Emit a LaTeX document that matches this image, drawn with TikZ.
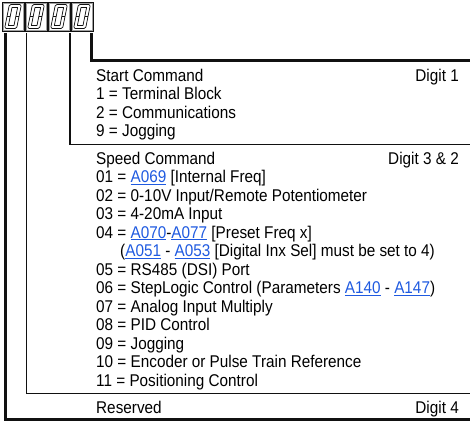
\documentclass[tikz,border=0pt]{standalone}
\usepackage{fontspec}
\setmainfont{Liberation Sans}[FakeStretch=0.9]
\usetikzlibrary{positioning,calc}
\definecolor{dgInk}{HTML}{111111}
\definecolor{dgLink}{HTML}{1F5AE0}
\definecolor{dgFrame}{HTML}{A0A0A0}
\newcommand{\plink}[1]{{\color{dgLink}\underline{#1}}}
\tikzset{
  digitbox/.style={
    draw=dgInk, line width=0.9pt, minimum width=22pt, minimum height=29pt, inner sep=0pt
  },
  segline/.style={line width=0.7pt, dgInk, line join=round},
  thickline/.style={line width=3pt, dgInk},
  thinline/.style={line width=1.1pt, dgInk},
  sectext/.style={anchor=base west, inner sep=0pt, align=left, font=\fontsize{17}{18.5}\selectfont},
  digittag/.style={anchor=base east, inner sep=0pt, font=\fontsize{17}{18.5}\selectfont}
}

\begin{document}
\begin{tikzpicture}[x=1pt, y=-1pt]
  \useasboundingbox (0,0) rectangle (470,421);
  % display digits
  \node[digitbox] (d1) at (13,16.5) {};
  \node[digitbox] (d2) at (36,16.5) {};
  \node[digitbox] (d3) at (59,16.5) {};
  \node[digitbox] (d4) at (82,16.5) {};
  \foreach \dg in {d1,d2,d3,d4}{
    \draw[dgFrame, line width=0.8pt] ([shift={(1.5pt,1.5pt)}]\dg.south west) rectangle ([shift={(-1.5pt,-1.5pt)}]\dg.north east);
    \begin{scope}[shift={(\dg.center)}, xslant=0.2]
      \draw[segline, rounded corners=1.5pt] (-6,-12) rectangle (6,12);
      \draw[segline] (-2.8,-9) rectangle (2.8,9);
      \draw[segline] (-6,0) -- (-2.8,0) (2.8,0) -- (6,0);
    \end{scope}
  }
  % line ends at the right edge
  \coordinate (e1) at (470,419.5);
  \coordinate (e2) at (470,393.5);
  \coordinate (e3) at (470,144.5);
  \coordinate (e4) at (470,60.5);
  \draw[thickline] ([xshift=3.5pt,yshift=-2pt]d1.south west) |- (e1);
  \draw[thinline] ([xshift=1.5pt,yshift=-2pt]d2.south west) |- (e2);
  \draw[thinline] ([xshift=-0.5pt,yshift=-2pt]d3.south east) |- (e3);
  \draw[thickline] ([xshift=-2pt,yshift=-2pt]d4.south east) |- (e4);
  % sections (base = last line)
  \node[sectext] (start) at (96,136.5)
   {Start Command\\
     1 = Terminal Block\\
     2 = Communications\\
     9 = Jogging};
  \node[digittag] (tag1) at (459,81) {Digit 1};
  \node[sectext] (speed) at (96,386)
   {Speed Command\\
     01 = \plink{A069} [Internal Freq]\\
     02 = 0-10V Input/Remote Potentiometer\\
     03 = 4-20mA Input\\
     04 = \plink{A070}-\plink{A077} [Preset Freq x]\\
     \hspace*{24pt}(\plink{A051} - \plink{A053} [Digital Inx Sel] must be set to 4)\\
     05 = RS485 (DSI) Port\\
     06 = StepLogic Control (Parameters \plink{A140} - \plink{A147})\\
     07 = Analog Input Multiply\\
     08 = PID Control\\
     09 = Jogging\\
     10 = Encoder or Pulse Train Reference\\
     11 = Positioning Control};
  \node[digittag] (tag2) at (459,164) {Digit 3 \& 2};
  \node[sectext] (resv) at (96,413) {Reserved};
  \node[digittag] (tag4) at (459,413) {Digit 4};
\end{tikzpicture}
\end{document}
